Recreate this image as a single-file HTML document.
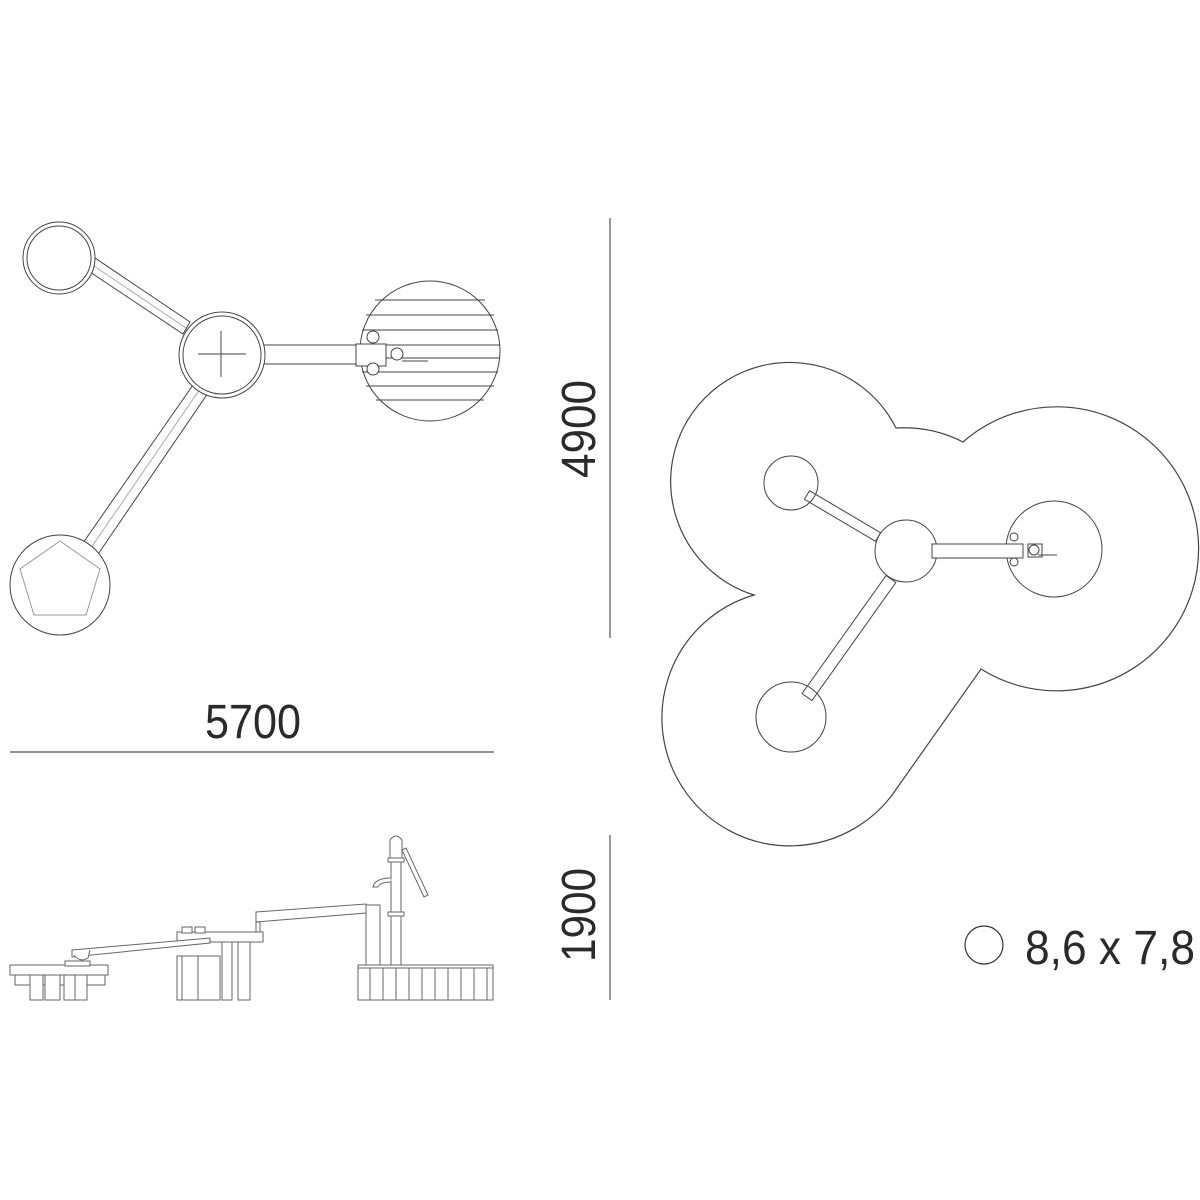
<!DOCTYPE html>
<html><head><meta charset="utf-8"><style>html,body{margin:0;padding:0;background:#fff}svg{display:block}</style></head>
<body>
<svg width="1200" height="1200" viewBox="0 0 1200 1200" xmlns="http://www.w3.org/2000/svg" font-family="Liberation Sans, sans-serif">
<rect width="1200" height="1200" fill="#fff"/>
<g fill="none" stroke="#333" stroke-width="1.2">
<g stroke="#444" stroke-width="1">
<polygon points="84,268 92,256 190,322 183,334" fill="#fff"/>
<line x1="88" y1="262" x2="186" y2="328" stroke="#aaa"/>
<polygon points="193,385 208,393 92,563 76,553" fill="#fff"/>
<line x1="200" y1="389" x2="84" y2="558" stroke="#aaa"/>
<rect x="256" y="345" width="130" height="19" fill="#fff"/>
<circle cx="59" cy="258" r="36" fill="#fff"/><circle cx="59" cy="258" r="32"/>
<circle cx="222" cy="355" r="43" fill="#fff"/><circle cx="222" cy="355" r="39"/>
<line x1="198" y1="354" x2="246" y2="354"/><line x1="221" y1="331" x2="221" y2="377"/>
<circle cx="60" cy="585" r="50" fill="#fff"/>
<polygon points="60,541 100,569 86,615 34,615 20,569" stroke="#999"/>
<circle cx="430" cy="351" r="70" fill="#fff"/>
<line x1="375" y1="300" x2="485" y2="300"/><line x1="366" y1="315" x2="494" y2="315"/><line x1="362" y1="330" x2="498" y2="330"/><line x1="360" y1="345" x2="500" y2="345"/><line x1="360" y1="358" x2="500" y2="358"/><line x1="362" y1="372" x2="498" y2="372"/><line x1="366" y1="386" x2="494" y2="386"/><line x1="376" y1="400" x2="484" y2="400"/>
<rect x="356" y="344" width="30" height="22" fill="#fff"/>
<circle cx="373" cy="337" r="6" fill="#fff"/><circle cx="373" cy="369" r="6" fill="#fff"/>
<circle cx="397" cy="354" r="6" fill="#fff"/><line x1="402" y1="361" x2="428" y2="361"/>
</g>
<line x1="10" y1="752" x2="494" y2="752" stroke="#555"/>
<line x1="610" y1="218" x2="610" y2="638" stroke="#555"/>
<line x1="610" y1="835" x2="610" y2="1000" stroke="#555"/>
<path d="M896,428 Q932,426 963,442 A142 142 0 1 1 981,669 L897,788 A128 128 0 1 1 754,595 A119 119 0 1 1 896,428 Z" stroke="#444"/>
<g stroke="#444" stroke-width="1">
<polygon points="809.5,490.7 880.5,532.7 875.5,541.3 804.5,499.3" fill="#fff"/>
<polygon points="895.9,582.5 811.9,700.5 802.1,693.5 886.1,575.5" fill="#fff"/>
<circle cx="791" cy="483" r="27"/>
<circle cx="1054" cy="549" r="48"/>
<circle cx="791" cy="717" r="35"/>
<circle cx="906" cy="551" r="31" fill="#fff"/>
<rect x="932" y="544" width="91" height="14" fill="#fff"/>
<circle cx="1014" cy="537" r="4"/><circle cx="1014" cy="562" r="4"/>
<rect x="1028" y="544" width="14" height="13"/><circle cx="1034" cy="550" r="5"/>
<line x1="1038" y1="555" x2="1057" y2="555"/>
</g>
<circle cx="984" cy="945" r="19" stroke="#333"/>
<g stroke="#666" stroke-width="1" fill="#fff">
<rect x="358" y="965" width="135" height="35"/>
<line x1="358" y1="968" x2="493" y2="968"/>
<line x1="370" y1="968" x2="370" y2="1000"/><line x1="383" y1="968" x2="383" y2="1000"/><line x1="396" y1="968" x2="396" y2="1000"/><line x1="409" y1="968" x2="409" y2="1000"/><line x1="422" y1="968" x2="422" y2="1000"/><line x1="435" y1="968" x2="435" y2="1000"/><line x1="448" y1="968" x2="448" y2="1000"/><line x1="461" y1="968" x2="461" y2="1000"/><line x1="474" y1="968" x2="474" y2="1000"/><line x1="487" y1="968" x2="487" y2="1000"/>
<rect x="366" y="905" width="14" height="60"/>
<rect x="391" y="860" width="10" height="105"/>
<path d="M390,860 L390,840 Q396,832 402,840 L402,860 Z"/>
<rect x="388" y="858" width="16" height="4"/><rect x="388" y="912" width="16" height="4"/>
<path d="M391,878 Q375,878 373,887 L378,887 Q380,882 391,882"/>
<polygon points="402,850 406,848 428,895 424,897"/>
<polygon points="256,912 366,904 366,913 256,922"/>
<rect x="256" y="922" width="4" height="10"/>
<rect x="177" y="932" width="86" height="10"/>
<rect x="182" y="927" width="10" height="6"/><rect x="195" y="927" width="10" height="6"/>
<rect x="222" y="942" width="10" height="58"/><rect x="238" y="942" width="12" height="58"/>
<rect x="182" y="956" width="38" height="44"/>
<rect x="177" y="956" width="5" height="44"/>
<line x1="198" y1="956" x2="198" y2="1000"/>
<polygon points="72,950 210,938 210,943 72,957"/>
<path d="M74,955 Q80,963 88,958 L90,950"/>
<rect x="10" y="965" width="98" height="10"/>
<rect x="65" y="961" width="25" height="5"/>
<rect x="15" y="975" width="90" height="10"/>
<rect x="30" y="975" width="13" height="25"/><rect x="45" y="975" width="15" height="25"/><rect x="64" y="975" width="15" height="25"/><rect x="75" y="975" width="12" height="25"/>
</g>
</g>
<g fill="#2a2a2a" font-size="48">
<text x="205" y="738" textLength="96" lengthAdjust="spacingAndGlyphs">5700</text>
<text transform="translate(595,478) rotate(-90)" textLength="98" lengthAdjust="spacingAndGlyphs">4900</text>
<text transform="translate(595,962) rotate(-90)" textLength="94" lengthAdjust="spacingAndGlyphs">1900</text>
<text x="1025" y="964" textLength="170" lengthAdjust="spacingAndGlyphs">8,6 x 7,8</text>
</g>
</svg>
</body></html>
